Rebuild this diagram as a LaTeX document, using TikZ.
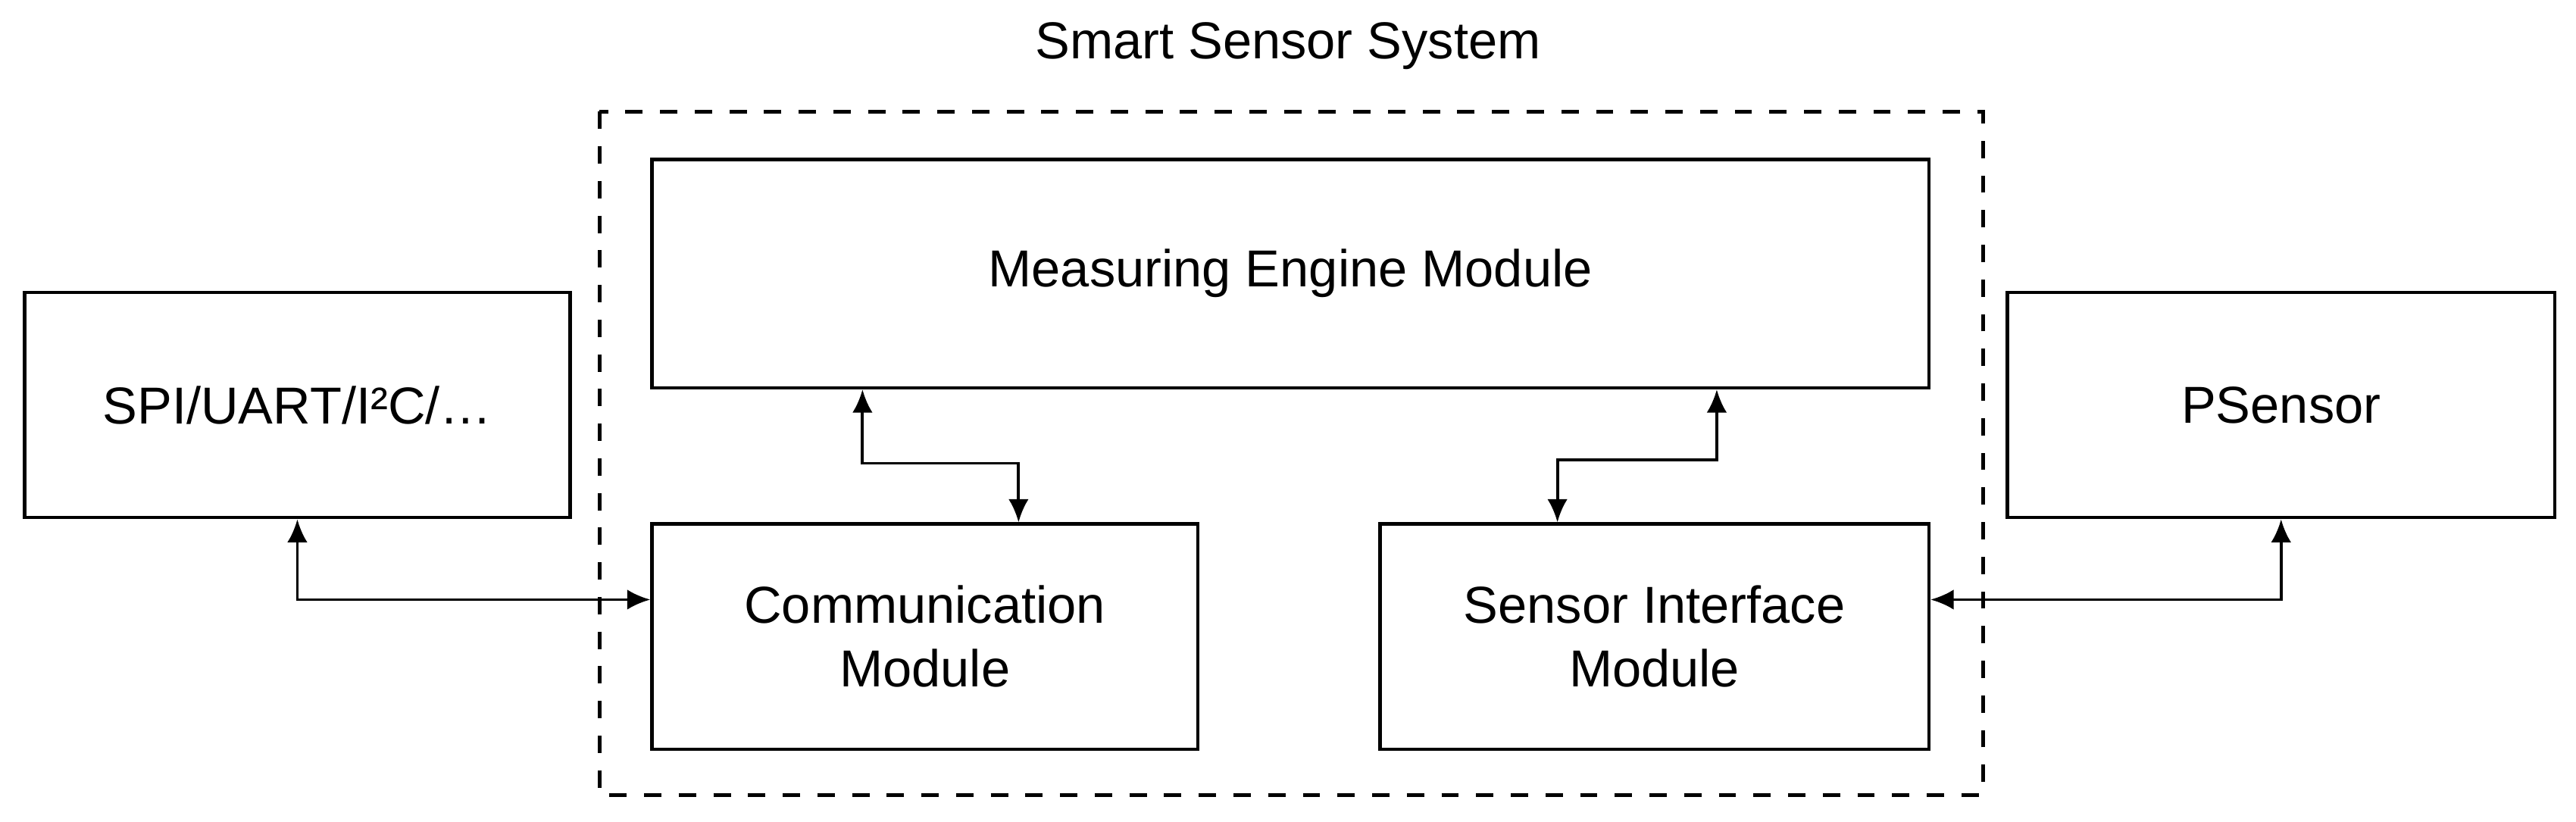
\documentclass[tikz,border=0pt]{standalone}
\usepackage{fontspec}
\setmainfont{Liberation Sans}
\usetikzlibrary{arrows.meta}
\begin{document}
\begin{tikzpicture}[x=0.01cm,y=-0.01cm,
  box/.style={draw,line width=0.6pt,inner sep=0pt,font=\fontsize{9}{11}\selectfont,align=center},
  conn/.style={line width=0.5pt,{Latex[length=4pt,width=3.5pt]}-{Latex[length=4pt,width=3.5pt]}}]
\useasboundingbox (0,0) rectangle (1568,500);
\node[font=\fontsize{9}{11}\selectfont] (title) at (784,28) {Smart Sensor System};
\draw[dashed,line width=0.6pt] (365,68) rectangle (1207,484);
\node[box,minimum width=7.77cm,minimum height=1.39cm] (me) at (785.5,166.5) {Measuring Engine Module};
\node[box,minimum width=3.32cm,minimum height=1.37cm] (cm) at (563,387.5) {Communication\\Module};
\node[box,minimum width=3.34cm,minimum height=1.37cm] (si) at (1007,387.5) {Sensor Interface\\Module};
\node[box,minimum width=3.32cm,minimum height=1.37cm] (spi) at (181,246.5) {SPI/UART/I²C/…};
\node[box,minimum width=3.33cm,minimum height=1.37cm] (ps) at (1388.5,246.5) {PSensor};
\draw[conn] (me.south -| 525,0) |- (620,282) -- (cm.north -| 620,0);
\draw[conn] (me.south -| 1045,0) |- (948,280) -- (si.north -| 948,0);
\draw[conn] (spi.south) |- (cm.west |- 0,365);
\draw[conn] (ps.south) |- (si.east |- 0,365);
\end{tikzpicture}
\end{document}
